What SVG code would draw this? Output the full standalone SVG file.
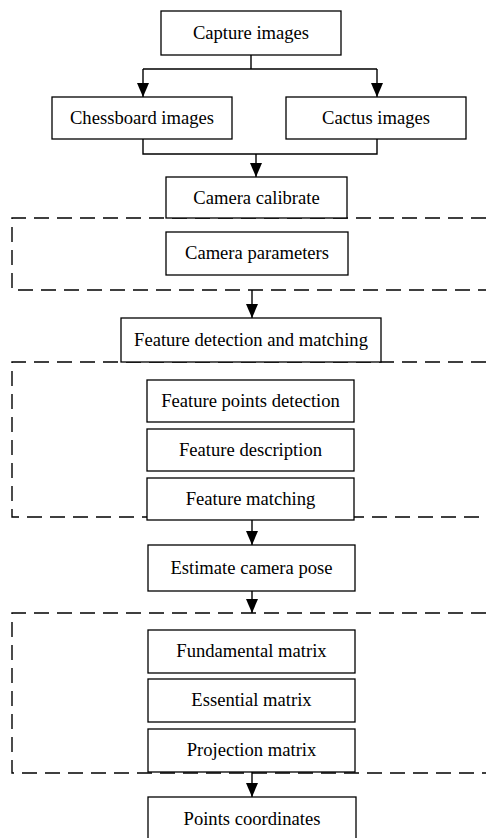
<svg xmlns="http://www.w3.org/2000/svg" width="486" height="838" viewBox="0 0 486 838">
<defs>
<style>
.box{fill:#fff;stroke:#000;stroke-width:1.3}
.t{font-family:"Liberation Serif","Times New Roman",serif;font-size:18.6px;fill:#000;text-anchor:middle}
.ln{fill:none;stroke:#000;stroke-width:1.4}
.dash{fill:none;stroke:#000;stroke-width:1.4;stroke-dasharray:15 8}
</style>
<marker id="ah" viewBox="0 0 14 12" refX="14" refY="6" markerWidth="14" markerHeight="12" markerUnits="userSpaceOnUse" orient="auto">
<path d="M0,0 L14,6 L0,12 z" fill="#000"/>
</marker>
</defs>
<rect width="486" height="838" fill="#fff"/>
<g id="groups">
<path class="dash" d="M486,218 H12 V290 H486"/>
<path class="dash" d="M486,362 H12 V517 H486"/>
<path class="dash" d="M486,613 H12 V773 H486"/>
</g>
<g id="connectors">
<path class="ln" d="M251,55 V69 M143,69 H377"/>
<path class="ln" d="M143,69 V97" marker-end="url(#ah)"/>
<path class="ln" d="M377,69 V97" marker-end="url(#ah)"/>
<path class="ln" d="M143,139 V154 H377 V139"/>
<path class="ln" d="M256,154 V177" marker-end="url(#ah)"/>
<path class="ln" d="M252,290 V318" marker-end="url(#ah)"/>
<path class="ln" d="M252,520 V545" marker-end="url(#ah)"/>
<path class="ln" d="M252,591 V613" marker-end="url(#ah)"/>
<path class="ln" d="M252,772 V797" marker-end="url(#ah)"/>
</g>
<g id="capture"><rect class="box" x="161" y="11" width="180" height="44"/><text class="t" x="251" y="39">Capture images</text></g>
<g id="chessboard"><rect class="box" x="52" y="97" width="180" height="42"/><text class="t" x="142" y="124">Chessboard images</text></g>
<g id="cactus"><rect class="box" x="286" y="97" width="180" height="42"/><text class="t" x="376" y="124">Cactus images</text></g>
<g id="calibrate"><rect class="box" x="166" y="177" width="181" height="41"/><text class="t" x="256.5" y="203.5">Camera calibrate</text></g>
<g id="parameters"><rect class="box" x="166" y="232" width="182" height="43"/><text class="t" x="257" y="259">Camera parameters</text></g>
<g id="featdet"><rect class="box" x="121" y="318" width="260" height="44"/><text class="t" x="251" y="346">Feature detection and matching</text></g>
<g id="points"><rect class="box" x="147" y="380" width="207" height="42"/><text class="t" x="250.5" y="407">Feature points detection</text></g>
<g id="description"><rect class="box" x="147" y="429" width="207" height="42"/><text class="t" x="250.5" y="456">Feature description</text></g>
<g id="matching"><rect class="box" x="147" y="478" width="207" height="42"/><text class="t" x="250.5" y="505">Feature matching</text></g>
<g id="pose"><rect class="box" x="148" y="545" width="207" height="46"/><text class="t" x="251.5" y="574">Estimate camera pose</text></g>
<g id="fundamental"><rect class="box" x="148" y="630" width="207" height="43"/><text class="t" x="251.5" y="657">Fundamental matrix</text></g>
<g id="essential"><rect class="box" x="148" y="679" width="207" height="43"/><text class="t" x="251.5" y="706">Essential matrix</text></g>
<g id="projection"><rect class="box" x="148" y="729" width="207" height="43"/><text class="t" x="251.5" y="756">Projection matrix</text></g>
<g id="coords"><rect class="box" x="148" y="797" width="208" height="46"/><text class="t" x="252" y="825">Points coordinates</text></g>
</svg>
